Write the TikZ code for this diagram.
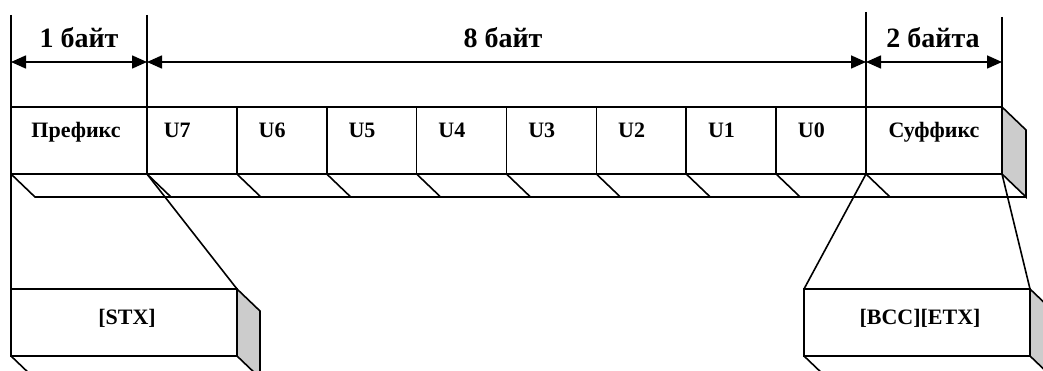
\documentclass[tikz,border=0pt]{standalone}
\usepackage{fontspec}
\setmainfont{Liberation Serif}
\usetikzlibrary{arrows.meta,calc}
\begin{document}
\begin{tikzpicture}[x=1pt,y=-1pt, line width=1.6pt, line join=miter,
 cell/.style={draw, rectangle, minimum height=67pt, anchor=north west, inner sep=0pt, outer sep=0pt},
 side/.style={draw, fill=black!20},
 lbl/.style={font=\bfseries\fontsize{22}{22}\selectfont, inner sep=0pt},
 head/.style={font=\bfseries\fontsize{28}{28}\selectfont, inner sep=0pt},
 dimarrow/.style={{Triangle[length=15pt,width=13pt]}-{Triangle[length=15pt,width=13pt]}},
]
\useasboundingbox (0,0) rectangle (1043,371);
% top row
\node[cell, minimum width=136pt] (pre) at (11,107) {};
\node[cell, minimum width=89.875pt] (u7) at (147,107) {};
\node[cell, minimum width=89.875pt] (u6) at (236.875,107) {};
\node[cell, minimum width=89.875pt] (u5) at (326.75,107) {};
\node[cell, minimum width=89.875pt] (u4) at (416.625,107) {};
\node[cell, minimum width=89.875pt] (u3) at (506.5,107) {};
\node[cell, minimum width=89.875pt] (u2) at (596.375,107) {};
\node[cell, minimum width=89.875pt] (u1) at (686.25,107) {};
\node[cell, minimum width=89.875pt] (u0) at (776.125,107) {};
\node[cell, minimum width=136pt] (suf) at (866,107) {};
% 3D faces of top row
\filldraw[side] (suf.north east) -- ++(24,23) -- ++(0,67) -- (suf.south east) -- cycle;
\draw (pre.south west) -- ++(24,23) -- ($(suf.south east)+(24,23)$);
\foreach \n in {u7,u6,u5,u4,u3,u2,u1,u0,suf}
  \draw (\n.south west) -- ++(24,23);
% labels of top row
\node[lbl, anchor=base] at ($(pre.north)+(-3,31)$) {Префикс};
\node[lbl, anchor=base] at ($(suf.north)+(0,31)$) {Суффикс};
\node[lbl, anchor=base west] at ($(u7.north west)+(16,31)$) {U7};
\node[lbl, anchor=base west] at ($(u6.north west)+(21,31)$) {U6};
\node[lbl, anchor=base west] at ($(u5.north west)+(21,31)$) {U5};
\node[lbl, anchor=base west] at ($(u4.north west)+(21,31)$) {U4};
\node[lbl, anchor=base west] at ($(u3.north west)+(21,31)$) {U3};
\node[lbl, anchor=base west] at ($(u2.north west)+(21,31)$) {U2};
\node[lbl, anchor=base west] at ($(u1.north west)+(21,31)$) {U1};
\node[lbl, anchor=base west] at ($(u0.north west)+(21,31)$) {U0};
% lower boxes
\node[cell, minimum width=226pt] (stx) at (11,289) {};
\filldraw[side] (stx.north east) -- ++(23,22) -- ++(0,67) -- (stx.south east) -- cycle;
\draw (stx.south west) -- ++(23,22);
\node[lbl, anchor=base] at ($(stx.north)+(3,35)$) {[STX]};
\node[cell, minimum width=226pt] (bcc) at (804,289) {};
\filldraw[side] (bcc.north east) -- ++(23,22) -- ++(0,67) -- (bcc.south east) -- cycle;
\draw (bcc.south west) -- ++(23,22);
\node[lbl, anchor=base] at ($(bcc.north)+(3,35)$) {[BCC][ETX]};
% connectors to lower boxes
\draw (pre.south west) -- (stx.north west);
\draw (pre.south east) -- (stx.north east);
\draw (u0.south east) -- (bcc.north west);
\draw (suf.south east) -- (bcc.north east);
% dimension lines
\coordinate (d0) at (11,15);
\coordinate (d1) at (147,15);
\coordinate (d2) at (866,12);
\coordinate (d3) at (1002,17);
\draw (d0) -- (pre.north west);
\draw (d1) -- (pre.north east);
\draw (d2) -- (suf.north west);
\draw (d3) -- (suf.north east);
\coordinate (a0) at (11,62);
\coordinate (a1) at (147,62);
\coordinate (a2) at (866,62);
\coordinate (a3) at (1002,62);
\draw[dimarrow] (a0) -- (a1);
\draw[dimarrow] (a1) -- (a2);
\draw[dimarrow] (a2) -- (a3);
\node[head] (h1) at (79,38) {1 байт};
\node[head] (h2) at (503,38) {8 байт};
\node[head] (h3) at (933,38) {2 байта};
\end{tikzpicture}
\end{document}
